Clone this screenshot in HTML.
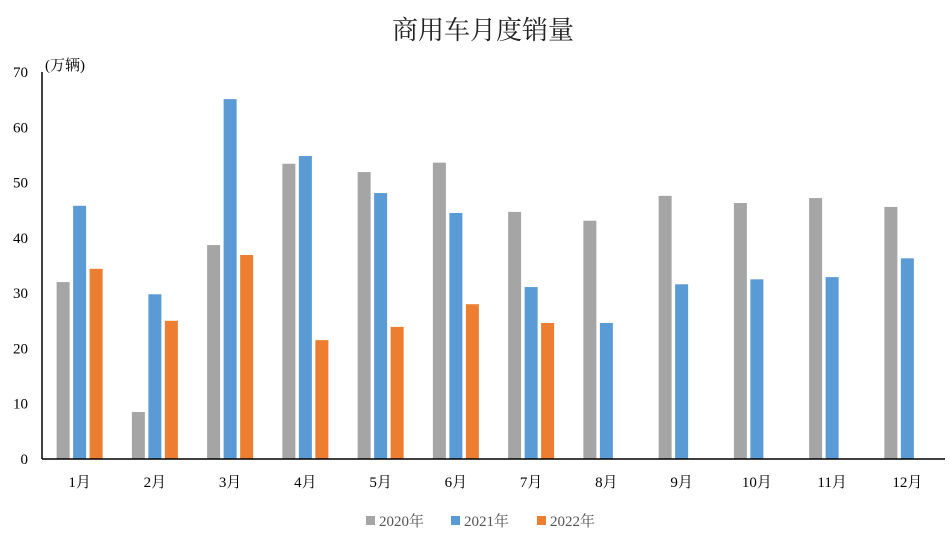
<!DOCTYPE html>
<html><head><meta charset="utf-8">
<style>
body{margin:0;background:#fff;font-family:"Liberation Serif","Noto Serif CJK SC",serif;}
svg text{font-family:"Liberation Serif","Noto Serif CJK SC",serif;}
</style></head>
<body>
<svg id="chart" width="950" height="541" xmlns="http://www.w3.org/2000/svg">
<text x="483" y="39" text-anchor="middle" font-size="26" fill="#222">商用车月度销量</text>
<text x="45" y="70" font-size="15" fill="#000">(万辆)</text>
<g id="bars"></g>
<g id="axes"></g>
<g>
<rect x="366" y="516" width="9" height="9" fill="#a5a5a5"/>
<text x="379" y="526" font-size="15" fill="#555">2020年</text>
<rect x="451" y="516" width="9" height="9" fill="#5b9bd5"/>
<text x="464" y="526" font-size="15" fill="#555">2021年</text>
<rect x="537" y="516" width="9" height="9" fill="#ed7d31"/>
<text x="550" y="526" font-size="15" fill="#555">2022年</text>
</g>
</svg>
<script>
const categories=["1月","2月","3月","4月","5月","6月","7月","8月","9月","10月","11月","12月"];
const s2020=[32.0,8.5,38.7,53.4,51.9,53.6,44.7,43.1,47.6,46.3,47.2,45.6];
const s2021=[45.8,29.8,65.1,54.8,48.1,44.5,31.1,24.6,31.6,32.5,32.9,36.3];
const s2022=[34.4,25.0,36.9,21.5,23.9,28.0,24.6,null,null,null,null,null];
const yTicks=[0,10,20,30,40,50,60,70];
const NS="http://www.w3.org/2000/svg";
const x0=42,x1=945,y0=459,yTop=72,yMax=70;
const bw=(x1-x0)/categories.length;
function yS(v){return y0-(v/yMax)*(y0-yTop);}
function xC(i){return x0+bw*(i+0.5);}
const bars=document.getElementById('bars'),axes=document.getElementById('axes');
const series=[[s2020,"#a5a5a5",-16.5,"2020"],[s2021,"#5b9bd5",0,"2021"],[s2022,"#ed7d31",16.5,"2022"]];
series.forEach(([d,c,off,n])=>{d.forEach((v,i)=>{if(v==null)return;
const r=document.createElementNS(NS,'rect');


r.setAttribute('x',xC(i)+off-6.5);r.setAttribute('width',13);
r.setAttribute('y',yS(v));r.setAttribute('height',y0-yS(v));r.setAttribute('fill',c);
bars.appendChild(r);});});
function line(a,b,c,d,name){const l=document.createElementNS(NS,'line');


l.setAttribute('x1',a);l.setAttribute('y1',b);l.setAttribute('x2',c);l.setAttribute('y2',d);
l.setAttribute('stroke','#000');l.setAttribute('stroke-width','1.5');axes.appendChild(l);}
line(x0,yTop,x0,y0,'y-axis');line(x0,y0,x1,y0,'x-axis');
yTicks.forEach(t=>{const tx=document.createElementNS(NS,'text');


tx.setAttribute('x',28);tx.setAttribute('y',yS(t)+5);tx.setAttribute('text-anchor','end');
tx.setAttribute('font-size','15');tx.textContent=t;axes.appendChild(tx);});
categories.forEach((c,i)=>{const tx=document.createElementNS(NS,'text');


tx.setAttribute('x',xC(i));tx.setAttribute('y',487);tx.setAttribute('text-anchor','middle');
tx.setAttribute('font-size','15');tx.textContent=c;axes.appendChild(tx);});
</script>
</body></html>
